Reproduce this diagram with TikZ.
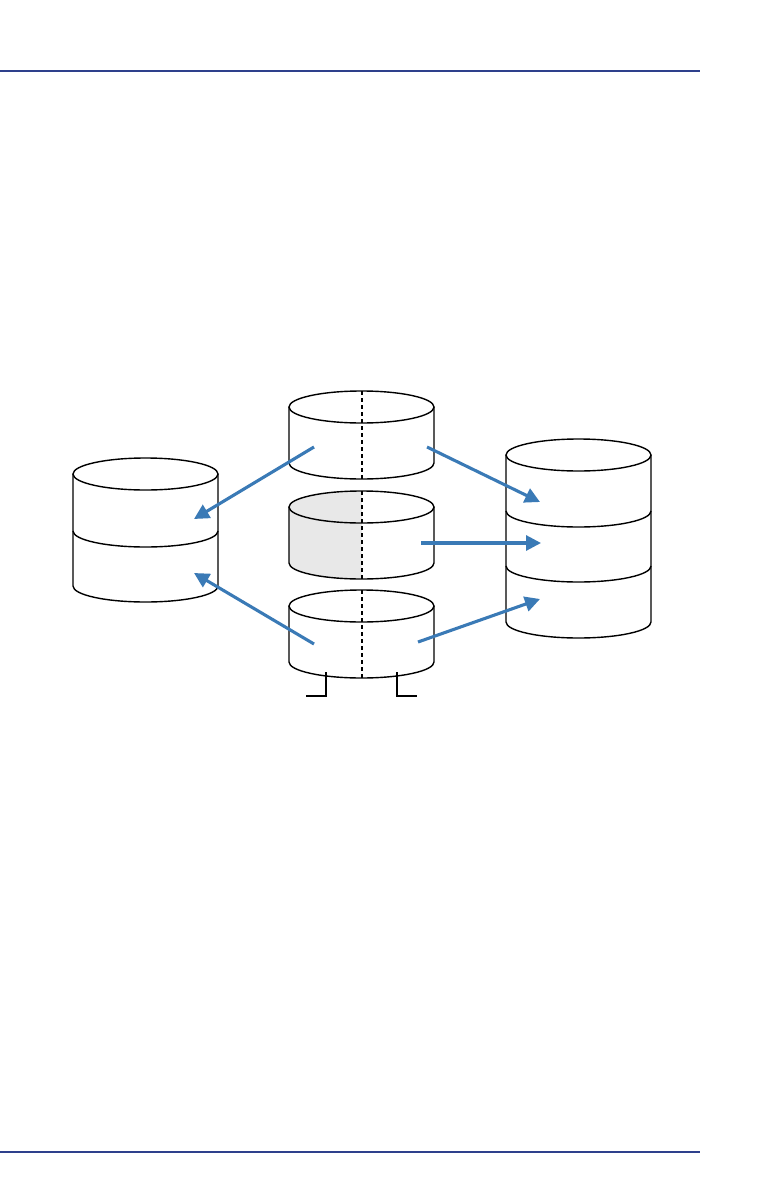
\documentclass[tikz,border=0pt]{standalone}
\usetikzlibrary{arrows.meta}
\definecolor{hdrblue}{RGB}{46,64,140}
\definecolor{arrblue}{RGB}{58,122,182}
\definecolor{halfgray}{RGB}{232,232,232}
\tikzset{
  outline/.style={line width=1.4pt, black},
  hdr/.style={line width=1.4pt, hdrblue},
  flow/.style={line width=3.1pt, arrblue, -{Triangle[length=15pt,width=15pt]}},
  split/.style={line width=1.5pt, black, dash pattern=on 4pt off 3pt},
}
\begin{document}
\begin{tikzpicture}[x=1pt,y=1pt]
\useasboundingbox (0,0) rectangle (772,-1188);
% header / footer rules
\coordinate (hl) at (0,-71); \coordinate (hr) at (700,-71);
\coordinate (fl) at (0,-1152); \coordinate (fr) at (700,-1152);
\draw[hdr] (hl) -- (hr);
\draw[hdr] (fl) -- (fr);

% ---------- middle top cylinder ----------
\draw[outline] (289,-407) -- (289,-463) arc[start angle=180,end angle=360,x radius=72.5pt,y radius=16pt] -- (434,-407);
\draw[outline] (361.5,-407) ellipse[x radius=72.5pt,y radius=16pt];
\coordinate (d1a) at (362,-391); \coordinate (d1b) at (362,-479);
\draw[split] (d1a) -- (d1b);

% ---------- middle centre cylinder (left half grey) ----------
\fill[halfgray] (362,-491) arc[start angle=90,end angle=180,x radius=72.5pt,y radius=16pt] -- (289,-563) arc[start angle=180,end angle=270,x radius=72.5pt,y radius=16pt] -- cycle;
\draw[outline] (289,-507) -- (289,-563) arc[start angle=180,end angle=360,x radius=72.5pt,y radius=16pt] -- (434,-507);
\draw[outline] (361.5,-507) ellipse[x radius=72.5pt,y radius=16pt];
\coordinate (d2a) at (362,-491); \coordinate (d2b) at (362,-579);
\draw[split] (d2a) -- (d2b);

% ---------- middle bottom cylinder ----------
\draw[outline] (289,-606) -- (289,-662) arc[start angle=180,end angle=360,x radius=72.5pt,y radius=16pt] -- (434,-606);
\draw[outline] (361.5,-606) ellipse[x radius=72.5pt,y radius=16pt];
\coordinate (d3a) at (362,-590); \coordinate (d3b) at (362,-678);
\draw[split] (d3a) -- (d3b);
% legs
\coordinate (la) at (326,-672); \coordinate (lb) at (326,-696); \coordinate (lc) at (306,-696);
\coordinate (ra) at (397,-672); \coordinate (rb) at (397,-696); \coordinate (rc) at (417,-696);
\draw[outline, line width=1.3pt] (la) -- (lb) -- (lc);
\draw[outline, line width=1.3pt] (ra) -- (rb) -- (rc);

% ---------- left cylinder (2 segments) ----------
\draw[outline] (73,-474) -- (73,-586) arc[start angle=180,end angle=360,x radius=72.5pt,y radius=16pt] -- (218,-474);
\draw[outline] (145.5,-474) ellipse[x radius=72.5pt,y radius=16pt];
\draw[outline] (73,-531) arc[start angle=180,end angle=360,x radius=72.5pt,y radius=16pt];

% ---------- right cylinder (3 segments) ----------
\draw[outline] (506,-455) -- (506,-622) arc[start angle=180,end angle=360,x radius=72.5pt,y radius=16pt] -- (651,-455);
\draw[outline] (578.5,-455) ellipse[x radius=72.5pt,y radius=16pt];
\draw[outline] (506,-511) arc[start angle=180,end angle=360,x radius=72.5pt,y radius=16pt];
\draw[outline] (506,-566) arc[start angle=180,end angle=360,x radius=72.5pt,y radius=16pt];

% ---------- arrow end points ----------
\coordinate (s1) at (314,-447); \coordinate (t1) at (194,-519);
\coordinate (s2) at (314,-644); \coordinate (t2) at (194,-573);
\coordinate (s3) at (427,-447); \coordinate (t3) at (540,-502);
\coordinate (s4) at (421,-543); \coordinate (t4) at (541,-543);
\coordinate (s5) at (418,-642); \coordinate (t5) at (540,-599);
\draw[flow] (s1) -- (t1);
\draw[flow] (s2) -- (t2);
\draw[flow] (s3) -- (t3);
\draw[flow] (s4) -- (t4);
\draw[flow] (s5) -- (t5);
\end{tikzpicture}
\end{document}
